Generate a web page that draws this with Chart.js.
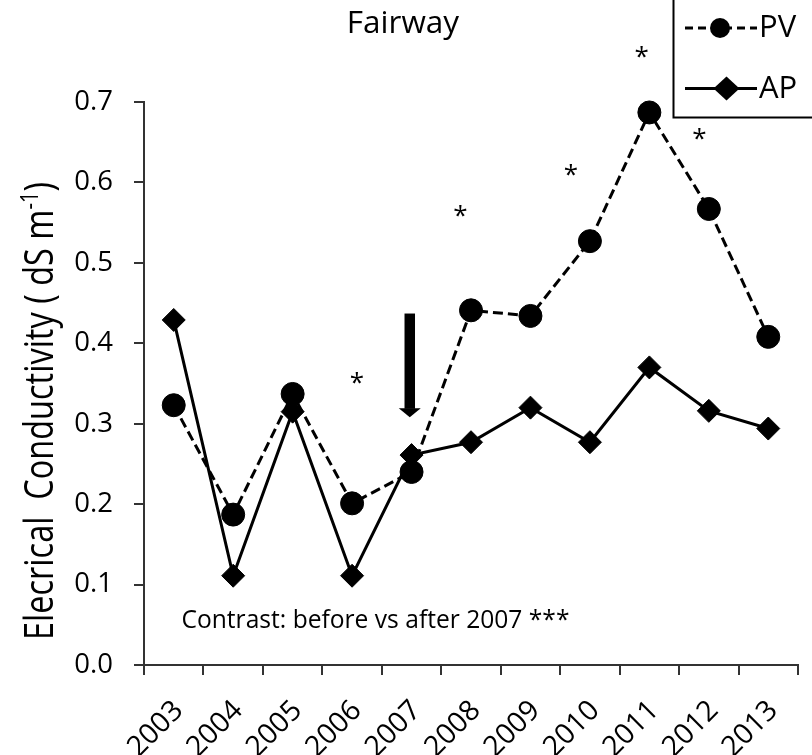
<!DOCTYPE html>
<html>
<head>
<meta charset="utf-8">
<script src="https://cdn.jsdelivr.net/npm/chart.js@4.4.1/dist/chart.umd.min.js"></script>
<style>
  html, body { margin: 0; padding: 0; background: #fff; }
  #c { display: block; }
</style>
</head>
<body>
<canvas id="c" width="812" height="755"></canvas>
<script>
// ---- data ----
const years = ['2003', '2004', '2005', '2006', '2007', '2008', '2009', '2010', '2011', '2012', '2013'];
const pvValues = [0.323, 0.187, 0.337, 0.201, 0.240, 0.441, 0.434, 0.527, 0.687, 0.567, 0.408];
const apValues = [0.429, 0.111, 0.315, 0.111, 0.261, 0.277, 0.320, 0.277, 0.370, 0.316, 0.294];
const seriesLabels = ['PV', 'AP'];
const yMin = 0, yMax = 0.7, yStep = 0.1;

// ---- texts ----
const titleText = 'Fairway';
const yTitleMain = 'Elecrical  Conductivity ( dS m';
const yTitleSup = '-1';
const yTitleEnd = ')';
const contrastText = 'Contrast: before vs after 2007 ***';

// ---- annotations (category position, value) ----
const starX = [3.08, 4.82, 6.68, 7.87, 8.84];
const starY = [0.357, 0.565, 0.616, 0.762, 0.660];
const arrowX = 3.97, arrowFrom = 0.437, arrowTo = 0.308;
const contrastX = 0.13, contrastY = 0.0464;

const FONT = '"Open Sans", sans-serif';
Chart.defaults.font.family = FONT;
Chart.defaults.color = '#000';

const annotations = {
  id: 'annotations',
  afterDraw(chart) {
    const ctx = chart.ctx;
    const xs = chart.scales.x, ys = chart.scales.y;
    ctx.save();
    ctx.fillStyle = '#000';
    ctx.strokeStyle = '#000';

    // title
    ctx.font = '31.5px ' + FONT;
    ctx.textAlign = 'center';
    ctx.textBaseline = 'alphabetic';
    ctx.fillText(titleText, chart.width / 2 - 3, 33);

    // y-axis title with superscript (fitted to the reference length)
    ctx.save();
    ctx.translate(53, 411);
    ctx.rotate(-Math.PI / 2);
    ctx.scale(1, 1.22);
    const targetLen = 458;
    const measure = (f) => {
      ctx.font = f + 'px ' + FONT;
      const a = ctx.measureText(yTitleMain).width + ctx.measureText(yTitleEnd).width;
      ctx.font = (f * 0.62) + 'px ' + FONT;
      return a + ctx.measureText(yTitleSup).width;
    };
    const fs = 32 * targetLen / measure(32), sfs = fs * 0.62;
    ctx.font = fs + 'px ' + FONT;
    const wMain = ctx.measureText(yTitleMain).width;
    const wEnd = ctx.measureText(yTitleEnd).width;
    ctx.font = sfs + 'px ' + FONT;
    const wSup = ctx.measureText(yTitleSup).width;
    const total = wMain + wSup + wEnd;
    let px = -total / 2;
    ctx.textAlign = 'left';
    ctx.font = fs + 'px ' + FONT;
    ctx.fillText(yTitleMain, px, 0);
    px += wMain;
    ctx.font = sfs + 'px ' + FONT;
    ctx.fillText(yTitleSup, px, -fs * 0.38);
    px += wSup;
    ctx.font = fs + 'px ' + FONT;
    ctx.fillText(yTitleEnd, px, 0);
    ctx.restore();

    // significance stars
    ctx.font = '26px ' + FONT;
    ctx.textAlign = 'center';
    const m = ctx.measureText('*');
    const off = (m.actualBoundingBoxAscent - m.actualBoundingBoxDescent) / 2;
    starX.forEach((sx, i) => {
      ctx.fillText('*', xs.getPixelForValue(sx), ys.getPixelForValue(starY[i]) + off);
    });

    // arrow
    const ax = xs.getPixelForValue(arrowX);
    const ay0 = ys.getPixelForValue(arrowFrom);
    const ay1 = ys.getPixelForValue(arrowTo);
    const headH = 9, headW = 11, shaftW = 10.5;
    ctx.fillRect(ax - shaftW / 2, ay0, shaftW, ay1 - ay0 - headH + 0.5);
    ctx.beginPath();
    ctx.moveTo(ax - headW, ay1 - headH);
    ctx.lineTo(ax + headW, ay1 - headH);
    ctx.lineTo(ax, ay1);
    ctx.closePath();
    ctx.fill();

    // contrast text
    ctx.font = '24.6px ' + FONT;
    ctx.textAlign = 'left';
    ctx.fillText(contrastText, xs.getPixelForValue(contrastX), ys.getPixelForValue(contrastY));

    // legend box
    ctx.lineWidth = 2;
    ctx.setLineDash([]);
    ctx.strokeRect(673.5, -5, 150, 122.5);
    const ds = chart.data.datasets;
    // PV row
    ctx.lineWidth = 3;
    ctx.setLineDash([8, 5]);
    ctx.beginPath(); ctx.moveTo(685, 28); ctx.lineTo(757, 28); ctx.stroke();
    ctx.setLineDash([]);
    ctx.beginPath(); ctx.arc(720, 28, 10, 0, Math.PI * 2); ctx.fill();
    // AP row
    ctx.beginPath(); ctx.moveTo(685, 88.5); ctx.lineTo(757, 88.5); ctx.stroke();
    ctx.beginPath();
    ctx.moveTo(726.5, 76.5); ctx.lineTo(739.5, 88.5); ctx.lineTo(726.5, 100.5); ctx.lineTo(713.5, 88.5);
    ctx.closePath(); ctx.fill();
    ctx.font = '31px ' + FONT;
    ctx.textAlign = 'left';
    ctx.fillText(ds[0].label, 759, 37);
    ctx.fillText(ds[1].label, 759, 97.5);

    ctx.restore();
  }
};

new Chart(document.getElementById('c'), {
  type: 'line',
  data: {
    labels: years,
    datasets: [
      {
        label: seriesLabels[0],
        data: pvValues,
        borderColor: '#000',
        backgroundColor: '#000',
        borderWidth: 3,
        borderDash: [10, 5],
        pointStyle: 'circle',
        pointRadius: 11.5,
        pointBorderWidth: 1,
        pointBackgroundColor: '#000',
        pointBorderColor: '#000',
        tension: 0,
        fill: false,
        clip: false
      },
      {
        label: seriesLabels[1],
        data: apValues,
        borderColor: '#000',
        backgroundColor: '#000',
        borderWidth: 3,
        pointStyle: 'rectRot',
        pointRadius: 11.5,
        pointBorderWidth: 1,
        pointBackgroundColor: '#000',
        pointBorderColor: '#000',
        tension: 0,
        fill: false,
        clip: false
      }
    ]
  },
  options: {
    responsive: false,
    animation: false,
    devicePixelRatio: 1,
    layout: { padding: { top: 102, right: 14, bottom: 0, left: 0 } },
    plugins: {
      legend: { display: false },
      title: { display: false },
      tooltip: { enabled: false }
    },
    scales: {
      x: {
        type: 'category',
        offset: true,
        grid: { offset: true, drawOnChartArea: false, drawTicks: true, tickLength: 10, color: '#333', lineWidth: 2 },
        border: { display: true, color: '#333', width: 2 },
        ticks: {
          autoSkip: false, maxRotation: 45, minRotation: 45, padding: 19, labelOffset: 5,
          color: '#000', font: { family: FONT, size: 28.5 }
        },
        afterFit(s) { s.height = 90; s.paddingLeft = 0; s.paddingRight = 0; }
      },
      y: {
        min: yMin, max: yMax,
        grid: { drawOnChartArea: false, drawTicks: true, tickLength: 10, color: '#333', lineWidth: 2 },
        border: { display: true, color: '#333', width: 2 },
        ticks: {
          stepSize: yStep, padding: 21, color: '#000',
          font: { family: FONT, size: 27.5 },
          callback: v => Number(v).toFixed(1)
        },
        afterFit(s) { s.width = 144; s.paddingTop = 0; s.paddingBottom = 0; }
      }
    }
  },
  plugins: [annotations]
});
</script>
</body>
</html>
